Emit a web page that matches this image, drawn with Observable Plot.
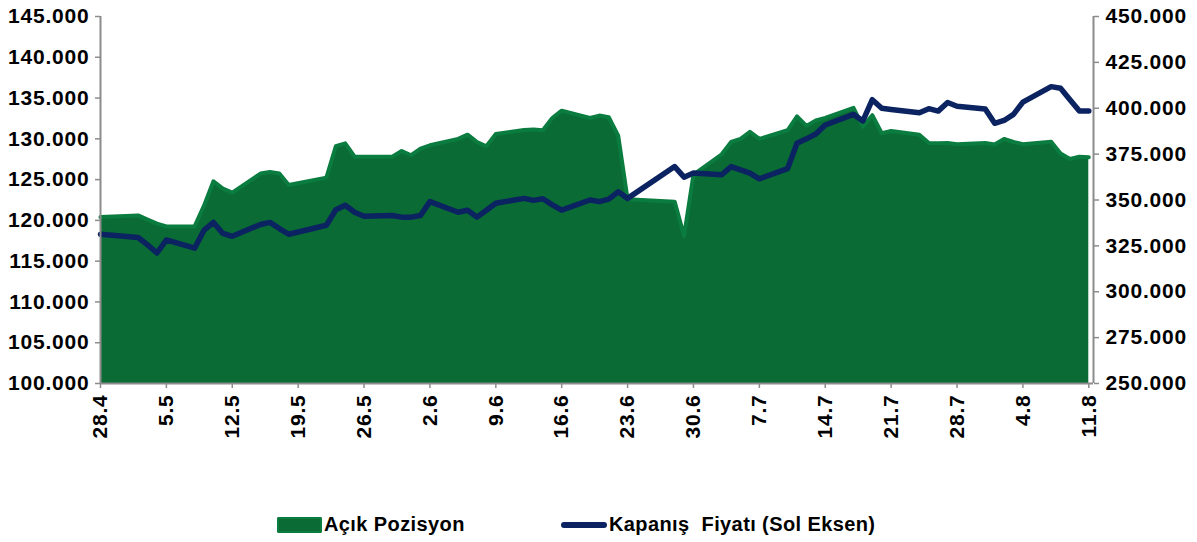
<!DOCTYPE html>
<html>
<head>
<meta charset="utf-8">
<script src="https://cdn.jsdelivr.net/npm/d3@7"></script>
<script src="https://cdn.jsdelivr.net/npm/@observablehq/plot@0.6"></script>
<style>
  html, body { margin: 0; padding: 0; background: #fff; }
  #wrap { position: relative; width: 1197px; height: 542px; font-family: "Liberation Sans", Arial, sans-serif; }
  #chart svg { display: block; }
  #chart svg text { letter-spacing: 0.8px; }
  .leg { position: absolute; top: 513px; font-weight: bold; font-size: 20px; letter-spacing: 0.4px; color: #000; display: flex; align-items: center; white-space: pre; }
</style>
</head>
<body>
<div id="wrap">
  <div id="chart"></div>
  <div class="leg" style="left:277px"><span style="display:inline-block;width:45px;height:16px;background:#0a6b34;border-radius:2px;box-shadow: inset 0 0 0 2px #0b7c3f;margin-right:2px;"></span><span>Açık Pozisyon</span></div>
  <div class="leg" style="left:561px"><span style="display:inline-block;width:46px;height:6px;background:#0b2361;border-radius:3px;margin-right:2px;"></span><span>Kapanış  Fiyatı (Sol Eksen)</span></div>
</div>
<script>
// Trading days (2017)
const dates = [
  "2017-04-28",
  "2017-05-02","2017-05-03","2017-05-04","2017-05-05",
  "2017-05-08","2017-05-09","2017-05-10","2017-05-11","2017-05-12",
  "2017-05-15","2017-05-16","2017-05-17","2017-05-18",
  "2017-05-22","2017-05-23","2017-05-24","2017-05-25","2017-05-26",
  "2017-05-29","2017-05-30","2017-05-31","2017-06-01","2017-06-02",
  "2017-06-05","2017-06-06","2017-06-07","2017-06-08","2017-06-09",
  "2017-06-12","2017-06-13","2017-06-14","2017-06-15","2017-06-16",
  "2017-06-19","2017-06-20","2017-06-21","2017-06-22","2017-06-23",
  "2017-06-28","2017-06-29","2017-06-30",
  "2017-07-03","2017-07-04","2017-07-05","2017-07-06","2017-07-07",
  "2017-07-10","2017-07-11","2017-07-12","2017-07-13","2017-07-14",
  "2017-07-17","2017-07-18","2017-07-19","2017-07-20","2017-07-21",
  "2017-07-24","2017-07-25","2017-07-26","2017-07-27","2017-07-28",
  "2017-07-31","2017-08-01","2017-08-02","2017-08-03","2017-08-04",
  "2017-08-07","2017-08-08","2017-08-09","2017-08-10","2017-08-11"
];

// Kapanış Fiyatı (left axis)
const closePrice = [
  118300,
  117900,117000,116000,117600,
  116600,118800,119750,118400,118050,
  119500,119750,119000,118300,
  119400,121300,121850,121000,120500,
  120600,120400,120400,120600,122300,
  121000,121250,120400,121250,122100,
  122700,122450,122650,121900,121250,
  122500,122300,122600,123500,122700,
  126600,125300,125800,
  125600,126600,126200,125800,125100,
  126350,129450,130000,130600,131700,
  133000,132200,134800,133750,133600,
  133200,133700,133400,134450,134000,
  133650,131900,132250,133000,134500,
  136400,136200,134800,133400,133400
];

// Açık Pozisyon (right axis)
const openInterest = [
  340700,
  341600,339300,337100,335600,
  335600,346900,360200,356200,354000,
  364400,365300,364400,358200,
  362200,379300,380900,373600,373600,
  373600,376700,374400,378000,379800,
  383300,385600,381600,379300,386000,
  388200,388400,388000,394700,398700,
  394700,396000,395100,385100,350400,
  349100,330400,363800,
  374900,381600,383300,387100,383300,
  388000,395600,390400,393300,394700,
  400200,390000,396200,386400,387600,
  385600,381100,380900,381100,380400,
  381100,380200,383300,381600,380400,
  381800,375300,372400,373600,373300
];

const xTickDates = ["2017-04-28","2017-05-05","2017-05-12","2017-05-19","2017-05-26","2017-06-02","2017-06-09","2017-06-16","2017-06-23","2017-06-30","2017-07-07","2017-07-14","2017-07-21","2017-07-28","2017-08-04","2017-08-11"];
const leftTicks = [100000,105000,110000,115000,120000,125000,130000,135000,140000,145000];
const rightTicks = [250000,275000,300000,325000,350000,375000,400000,425000,450000];

const leftDomain = [100000, 145000];
const rightDomain = [250000, 450000];
const toLeft = r => leftDomain[0] + (r - rightDomain[0]) * (leftDomain[1] - leftDomain[0]) / (rightDomain[1] - rightDomain[0]);
const toRight = l => rightDomain[0] + (l - leftDomain[0]) * (rightDomain[1] - rightDomain[0]) / (leftDomain[1] - leftDomain[0]);

const trLocale = d3.formatLocale({decimal: ",", thousands: ".", grouping: [3], currency: ["", ""]});
const fmt = trLocale.format(",.0f");
const dfmt = d3.utcFormat("%-d.%-m");

const rows = dates.map((d, i) => ({
  date: new Date(d + "T00:00:00Z"),
  price: closePrice[i],
  oi: toLeft(openInterest[i])
}));

const axisGray = "#8c8c8c";
const font = {fontSize: 21, fontWeight: "bold", fill: "#000"};

const chart = Plot.plot({
  width: 1197,
  height: 460,
  marginTop: 16,
  marginBottom: 77,
  marginLeft: 100,
  marginRight: 104,
  style: {fontFamily: "'Liberation Sans', Arial, sans-serif", background: "white", overflow: "visible"},
  x: {type: "utc", domain: [new Date("2017-04-28T00:00:00Z"), new Date("2017-08-11T12:00:00Z")]},
  y: {domain: leftDomain},
  marks: [
    Plot.areaY(rows, {x: "date", y1: leftDomain[0], y2: "oi", fill: "#0a6b34"}),
    Plot.lineY(rows, {x: "date", y: "oi", stroke: "#0b7c3f", strokeWidth: 4, strokeLinejoin: "round"}),
    Plot.lineY(rows, {x: "date", y: "price", stroke: "#0b2361", strokeWidth: 5.5, strokeLinejoin: "round", strokeLinecap: "round"}),
    Plot.ruleY([leftDomain[0]], {stroke: axisGray, strokeWidth: 2}),
    Plot.ruleX([new Date("2017-04-28T00:00:00Z")], {stroke: axisGray, strokeWidth: 2}),
    Plot.ruleX([new Date("2017-08-11T12:00:00Z")], {stroke: axisGray, strokeWidth: 2}),
    Plot.axisY({anchor: "left", ticks: leftTicks, tickFormat: fmt, tickSize: 5, tickPadding: 6, stroke: axisGray, strokeWidth: 1.5, label: null, ...font}),
    Plot.axisY({anchor: "right", ticks: rightTicks.map(toLeft), tickFormat: d => fmt(Math.round(toRight(d))), tickSize: 5, tickPadding: 7, stroke: axisGray, strokeWidth: 1.5, label: null, ...font}),
    Plot.axisX({ticks: xTickDates.map(d => new Date(d + "T00:00:00Z")), tickFormat: dfmt, tickRotate: -90, tickSize: 5, tickPadding: 6, stroke: axisGray, strokeWidth: 1.5, label: null, ...font})
  ]
});
document.getElementById("chart").appendChild(chart);
</script>
</body>
</html>
